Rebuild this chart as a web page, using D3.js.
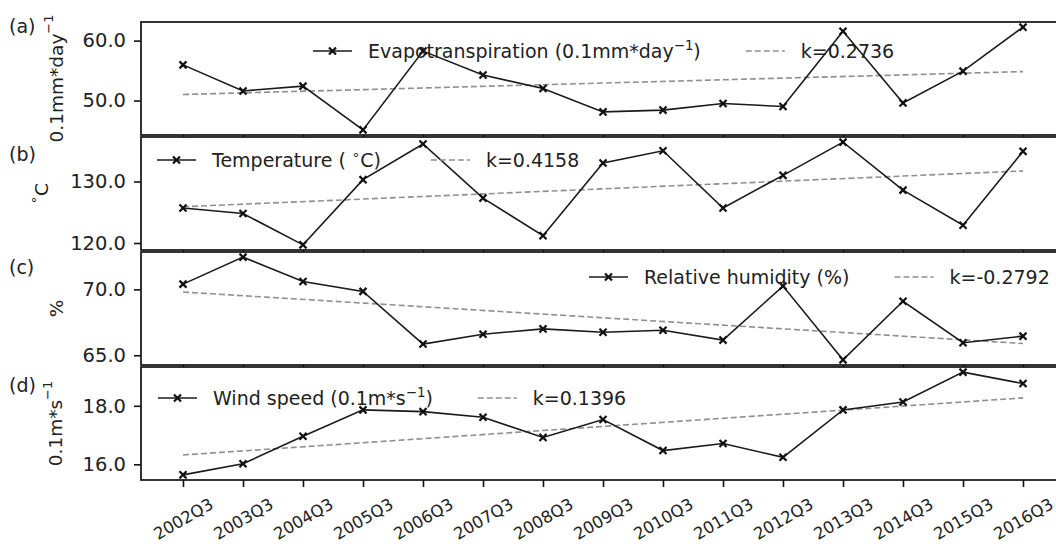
<!DOCTYPE html>
<html>
<head>
<meta charset="utf-8">
<script src="https://cdn.jsdelivr.net/npm/d3@7"></script>
<style>
  html, body { margin: 0; padding: 0; background: #fff; }
  svg { display: block; }
  text { font-family: "DejaVu Sans", sans-serif; fill: #222; }
</style>
</head>
<body>
<svg id="chart" width="1056" height="544"></svg>
<script>
// ---------------- data ----------------
const categories = ["2002Q3","2003Q3","2004Q3","2005Q3","2006Q3","2007Q3","2008Q3","2009Q3",
                    "2010Q3","2011Q3","2012Q3","2013Q3","2014Q3","2015Q3","2016Q3"];
const evapotranspiration = [55.95, 51.6, 52.4, 45.1, 58.25, 54.25, 52.0, 48.1, 48.4, 49.5, 49.0, 61.55, 49.6, 54.9, 62.25];
const temperature = [125.7, 124.8, 119.7, 130.3, 136.1, 127.3, 121.2, 133.0, 135.0, 125.7, 131.0, 136.4, 128.6, 122.9, 134.9];
const humidity = [70.4, 72.45, 70.6, 69.85, 65.85, 66.6, 67.0, 66.75, 66.9, 66.15, 70.25, 64.65, 69.1, 65.95, 66.45];
const windSpeed = [15.64, 16.02, 16.96, 17.86, 17.8, 17.61, 16.92, 17.53, 16.47, 16.71, 16.24, 17.86, 18.13, 19.15, 18.76];
const trendStart = [51.0, 125.9, 69.8, 16.32];
const trendEnd = [54.83, 131.72, 65.89, 18.27];
const slopeLabels = ["k=0.2736", "k=0.4158", "k=-0.2792", "k=0.1396"];
const panelLetters = ["(a)", "(b)", "(c)", "(d)"];
const yTicksA = [50, 60];
const yTicksB = [120, 130];
const yTicksC = [65, 70];
const yTicksD = [16, 18];

// label pieces: [main, superscript, tail]
const legendLabels = [
  ["Evapotranspiration (0.1mm*day", "\u22121", ")"],
  ["Temperature ( ", "\u2218", "C)"],
  ["Relative humidity (%)", "", ""],
  ["Wind speed (0.1m*s", "\u22121", ")"]
];
const yLabels = [
  ["0.1mm*day", "\u22121", ""],
  ["", "\u2218", "C"],
  ["%", "", ""],
  ["0.1m*s", "\u22121", ""]
];

const seriesList = [evapotranspiration, temperature, humidity, windSpeed];
const tickList = [yTicksA, yTicksB, yTicksC, yTicksD];

// ---------------- layout ----------------
const W = 1056, H = 544;
const left = 141, right = 1065;
const top0 = 22, panelH = 113, gap = 2;
const legendPos = [{x: 313, y: 51}, {x: 157, y: 160}, {x: 589, y: 277}, {x: 158, y: 398}];
const letterY = [33, 161, 274, 392];
const yLabelX = [56, 41, 56, 55];
const colSpacing = [45, 50, 45, 45];

const svg = d3.select("#chart");
svg.append("rect").attr("width", W).attr("height", H).attr("fill", "#fff");

const x = d3.scalePoint().domain(categories).range([left, right]).padding(0.7);

function addRich(sel, parts, fs) {
  if (parts[0]) sel.append("tspan").text(parts[0]);
  if (parts[1]) sel.append("tspan").attr("dy", -fs * 0.42).attr("font-size", fs * 0.7).text(parts[1]);
  if (parts[2]) sel.append("tspan").attr("dy", parts[1] ? fs * 0.42 : 0).text(parts[2]);
}

const markerPath = d3.symbol().type(d3.symbolX).size(34);

seriesList.forEach((vals, p) => {
  const y0 = top0 + p * (panelH + gap);
  const y1 = y0 + panelH;
  const lo = d3.min([...vals, trendStart[p], trendEnd[p]]);
  const hi = d3.max([...vals, trendStart[p], trendEnd[p]]);
  const pad = (hi - lo) * 0.05;
  const y = d3.scaleLinear().domain([lo - pad, hi + pad]).range([y1, y0]);

  const g = svg.append("g");
  g.append("rect").attr("x", left).attr("y", y0).attr("width", right - left).attr("height", panelH)
    .attr("fill", "#fff");

  // trend line
  const trendData = [{c: categories[0], v: trendStart[p]}, {c: categories[categories.length - 1], v: trendEnd[p]}];
  g.append("path").datum(trendData)
    .attr("d", d3.line().x(d => x(d.c)).y(d => y(d.v)))
    .attr("fill", "none").attr("stroke", "#8f8f8f").attr("stroke-width", 1.6)
    .attr("stroke-dasharray", "6,3");

  // data line
  g.append("path").datum(vals)
    .attr("d", d3.line().x((d, i) => x(categories[i])).y(d => y(d)))
    .attr("fill", "none").attr("stroke", "#1a1a1a").attr("stroke-width", 1.6);
  g.selectAll("path.mk").data(vals).enter().append("path").attr("class", "mk")
    .attr("d", markerPath)
    .attr("transform", (d, i) => `translate(${x(categories[i])},${y(d)})`)
    .attr("fill", "#111").attr("stroke", "#111").attr("stroke-width", 2.2);

  // frame
  g.append("rect").attr("x", left).attr("y", y0).attr("width", right - left).attr("height", panelH)
    .attr("fill", "none").attr("stroke", "#111").attr("stroke-width", 1.7);

  // y axis
  const yAxis = d3.axisLeft(y).tickValues(tickList[p]).tickSize(7).tickPadding(8)
    .tickFormat(d3.format(".1f"));
  const ga = g.append("g").attr("transform", `translate(${left},0)`).call(yAxis);
  ga.select(".domain").remove();
  ga.selectAll(".tick line").attr("stroke", "#111").attr("stroke-width", 1.6);
  ga.selectAll(".tick text").attr("font-size", 19.5).attr("font-family", "DejaVu Sans").attr("fill", "#222");

  // x axis ticks
  const xAxis = d3.axisBottom(x).tickSize(7).tickFormat(p === 3 ? (d => d) : "");
  const gx = g.append("g").attr("transform", `translate(0,${y1})`).call(xAxis);
  gx.select(".domain").remove();
  gx.selectAll(".tick line").attr("stroke", "#111").attr("stroke-width", 1.6);
  if (p === 3) {
    gx.selectAll(".tick text")
      .attr("font-size", 16.5).attr("font-family", "DejaVu Sans").attr("fill", "#222")
      .attr("text-anchor", "middle").attr("dominant-baseline", "central")
      .attr("y", 0).attr("dy", 0)
      .attr("transform", "translate(0,39) rotate(-30)");
  } else {
    gx.selectAll(".tick text").remove();
  }

  // y label
  const yl = g.append("text")
    .attr("transform", `translate(${yLabelX[p]},${(y0 + y1) / 2}) rotate(-90)`)
    .attr("text-anchor", "middle").attr("dominant-baseline", "central")
    .attr("font-size", 18.5);
  addRich(yl, yLabels[p], 18.5);

  // panel letter
  g.append("text").attr("x", 9).attr("y", letterY[p]).attr("font-size", 19).text(panelLetters[p]);

  // legend
  const fs = 19;
  const lp = legendPos[p];
  const hl = 39, tp = 16, cs = colSpacing[p];
  g.append("line").attr("x1", lp.x).attr("x2", lp.x + hl).attr("y1", lp.y).attr("y2", lp.y)
    .attr("stroke", "#1a1a1a").attr("stroke-width", 1.6);
  g.append("path").attr("d", markerPath).attr("transform", `translate(${lp.x + hl / 2},${lp.y})`)
    .attr("fill", "#111").attr("stroke", "#111").attr("stroke-width", 2.2);
  const t1 = g.append("text").attr("x", lp.x + hl + tp).attr("y", lp.y).attr("dy", "0.36em")
    .attr("font-size", fs);
  addRich(t1, legendLabels[p], fs);
  const w1 = t1.node().getComputedTextLength();
  const x2 = lp.x + hl + tp + w1 + cs;
  g.append("line").attr("x1", x2).attr("x2", x2 + hl).attr("y1", lp.y).attr("y2", lp.y)
    .attr("stroke", "#8f8f8f").attr("stroke-width", 1.6).attr("stroke-dasharray", "6,3");
  g.append("text").attr("x", x2 + hl + tp).attr("y", lp.y).attr("dy", "0.36em")
    .attr("font-size", fs).text(slopeLabels[p]);
});
</script>
</body>
</html>
